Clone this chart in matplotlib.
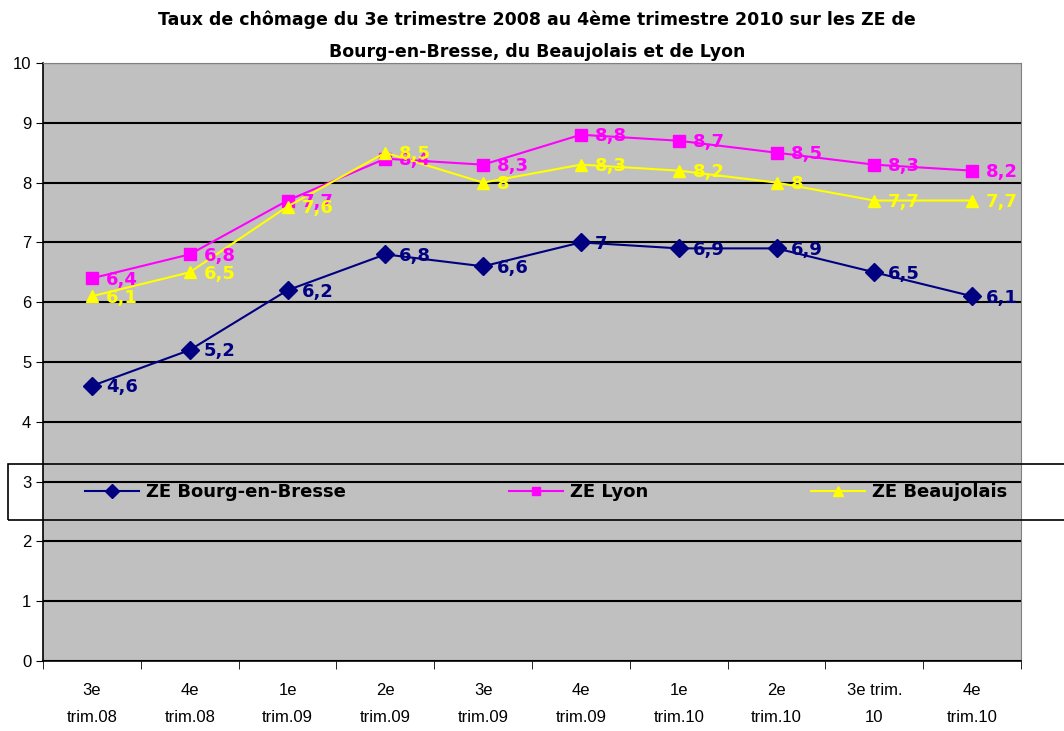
import matplotlib.pyplot as plt
from matplotlib.patches import Rectangle
import numpy as np

plt.rcParams['font.family'] = ['Liberation Sans', 'DejaVu Sans']

categories = ["3e\ntrim.08", "4e\ntrim.08", "1e\ntrim.09", "2e\ntrim.09", "3e\ntrim.09",
              "4e\ntrim.09", "1e\ntrim.10", "2e\ntrim.10", "3e trim.\n10", "4e\ntrim.10"]
bourg = [4.6, 5.2, 6.2, 6.8, 6.6, 7.0, 6.9, 6.9, 6.5, 6.1]
lyon = [6.4, 6.8, 7.7, 8.4, 8.3, 8.8, 8.7, 8.5, 8.3, 8.2]
beaujolais = [6.1, 6.5, 7.6, 8.5, 8.0, 8.3, 8.2, 8.0, 7.7, 7.7]

series = [
    ("ZE Bourg-en-Bresse", bourg, "#000080", "D", 9),
    ("ZE Lyon", lyon, "#FF00FF", "s", 8),
    ("ZE Beaujolais", beaujolais, "#FFFF00", "^", 9),
]


def fmt(v):
    s = f"{v:.1f}".rstrip("0").rstrip(".")
    return s.replace(".", ",")


fig = plt.figure(figsize=(10.64, 7.31), dpi=100)
ax = fig.add_axes([43 / 1064, 1 - 661 / 731, 978 / 1064, 598 / 731])
ax.set_facecolor("#C0C0C0")

x = np.arange(len(categories))
for name, vals, col, mk, ms in series:
    ax.plot(x, vals, color=col, marker=mk, markersize=ms, linewidth=1.5, label=name, zorder=3)
    for xi, v in zip(x, vals):
        ax.annotate(fmt(v), (xi, v), xytext=(10, -1), textcoords="offset points",
                    va="center", ha="left", color=col, fontsize=13, fontweight="bold",
                    family="DejaVu Sans", zorder=4)

ax.set_xlim(-0.5, len(categories) - 0.5)
ax.set_ylim(0, 10)
ax.set_yticks(range(0, 11))
ax.tick_params(axis="y", labelsize=12, length=5, direction="out")
ax.set_xticks(x)
ax.set_xticklabels(categories, fontsize=12, linespacing=2.0)
ax.set_xticks(np.arange(-0.5, len(categories)), minor=True)
ax.tick_params(axis="x", which="major", length=0, pad=16)
ax.tick_params(axis="x", which="minor", length=6, direction="out")
ax.yaxis.grid(True, color="black", linewidth=1.5)
ax.set_axisbelow(True)
for side in ["top", "right"]:
    ax.spines[side].set_color("#808080")
ax.spines["left"].set_linewidth(1.2)
ax.spines["bottom"].set_linewidth(1.2)

fig.text(537 / 1064, 1 - 20 / 731, "Taux de chômage du 3e trimestre 2008 au 4ème trimestre 2010 sur les ZE de",
         ha="center", va="center", fontsize=12.5, fontweight="bold", family="DejaVu Sans")
fig.text(537 / 1064, 1 - 52 / 731, "Bourg-en-Bresse, du Beaujolais et de Lyon",
         ha="center", va="center", fontsize=12.5, fontweight="bold", family="DejaVu Sans")

# legend box crossing the plot area
fig.add_artist(Rectangle((8 / 1064, 1 - 520 / 731), 1.1, 56 / 731, transform=fig.transFigure,
                         fill=False, edgecolor="black", linewidth=1.2, clip_on=False))
leg = fig.legend(loc="center left", bbox_to_anchor=(85 / 1064, 1 - 492 / 731), ncol=3,
                 frameon=False, prop={"weight": "bold", "size": 13, "family": "DejaVu Sans"},
                 handlelength=3, handletextpad=0.4, columnspacing=9.0, markerscale=0.8,
                 borderaxespad=0, borderpad=0)

fig.savefig("out.png", dpi=100)
